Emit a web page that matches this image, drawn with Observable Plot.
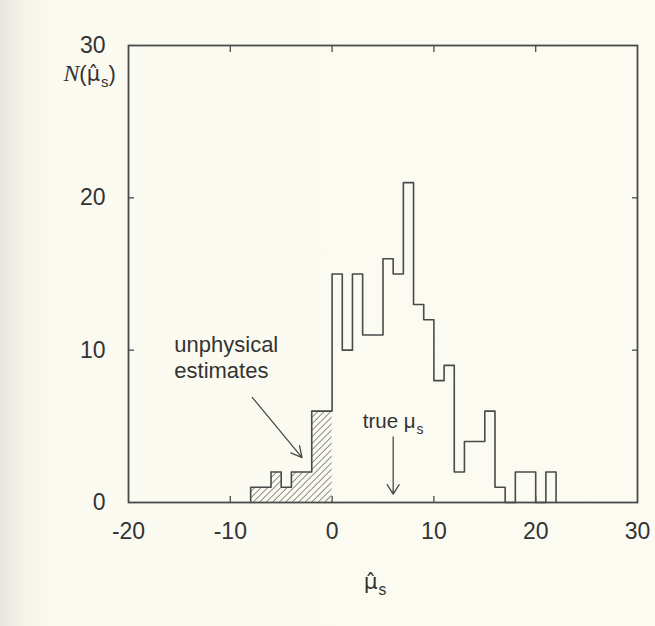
<!DOCTYPE html>
<html>
<head>
<meta charset="utf-8">
<script src="https://cdn.jsdelivr.net/npm/d3@7"></script>
<script src="https://cdn.jsdelivr.net/npm/@observablehq/plot@0.6"></script>
<style>
  html, body { margin: 0; padding: 0; }
  body {
    width: 655px; height: 626px; overflow: hidden;
    background: linear-gradient(to right, #e6e5dd 0px, #f4f3ea 22px, #fbfaf1 50px, #fcfbf2 100%);
  }
</style>
</head>
<body>
<div id="chart"></div>
<script>
// ---- data ----
const binEdges = [-8,-7,-6,-5,-4,-3,-2,-1,0,1,2,3,4,5,6,7,8,9,10,11,12,13,14,15,16,17,18,19,20,21,22];
const counts   = [ 1, 1, 2, 1, 2, 2, 6, 6,15,10,15,11,11,16,15,21,13,12, 8, 9, 2, 4, 4, 6, 1, 0, 2, 2, 0, 2];
const xTickLabels = [-20, -10, 0, 10, 20, 30];
const yTickLabels = [0, 10, 20, 30];
const xInnerTicks = [-10, 0, 10, 20];
const yInnerTicks = [10, 20];
const trueMu = 6;
const xLabel = "μ̂_s";
const yLabel = "*N*(μ̂_s)";
const noteText = ["unphysical", "estimates"];
const noteTrue = "true μ_s";
// annotation anchors (data units)
const notePos = {x: -15.5, y: 8.15};
const noteArrow = {x1: -7.85, y1: 6.9, x2: -2.95, y2: 2.95};
const truePos = {y: 4.9};
const trueArrow = {y1: 4.3, y2: 0.55};

// ---- tables ----
const bins = counts.map((c, i) => ({x1: binEdges[i], x2: binEdges[i + 1], n: c}));
const unphysical = bins.filter(b => b.x2 <= 0);
const outline = [{x: binEdges[0], y: 0}, ...bins.map(b => ({x: b.x1, y: b.n})), {x: binEdges[binEdges.length - 1], y: 0}];

const ink = "#4a4a4a";
const textInk = "#333333";
const font = "'Liberation Sans', Arial, Helvetica, sans-serif";

const plot = Plot.plot({
  width: 655,
  height: 626,
  marginLeft: 128,
  marginRight: 18,
  marginTop: 45,
  marginBottom: 124,
  x: {domain: [-20, 30]},
  y: {domain: [0, 30]},
  style: {background: "none", fontFamily: font, color: textInk, overflow: "visible"},
  marks: [
    Plot.rectY(unphysical, {x1: "x1", x2: "x2", y: "n", fill: "url(#hatch)"}),
    Plot.line(outline, {x: "x", y: "y", curve: "step-after", stroke: ink, strokeWidth: 1.6}),
    Plot.frame({stroke: ink, strokeWidth: 1.8}),
    Plot.axisX(xInnerTicks, {anchor: "bottom", tickSize: -6, fill: "none", stroke: ink, strokeWidth: 1.3, label: null}),
    Plot.axisX(xInnerTicks, {anchor: "top", tickSize: -6, fill: "none", stroke: ink, strokeWidth: 1.3, label: null}),
    Plot.axisY(yInnerTicks, {anchor: "left", tickSize: -6, fill: "none", stroke: ink, strokeWidth: 1.3, label: null}),
    Plot.axisY(yInnerTicks, {anchor: "right", tickSize: -6, fill: "none", stroke: ink, strokeWidth: 1.3, label: null}),
    Plot.axisX(xTickLabels, {anchor: "bottom", tickSize: 0, tickPadding: 20, fontSize: 23, fill: textInk, label: null, tickFormat: d => String(d)}),
    Plot.axisY(yTickLabels, {anchor: "left", tickSize: 0, tickPadding: 23, fontSize: 23, fill: textInk, label: null, tickFormat: d => String(d)}),
    Plot.text([xLabel], {text: d => d, frameAnchor: "bottom", dx: -8, dy: 86, lineAnchor: "bottom", fontSize: 23, fill: textInk}),
    Plot.text([yLabel], {text: d => d, frameAnchor: "top-left", dx: -65, dy: 28, textAnchor: "start", lineAnchor: "middle", fontSize: 22, fill: textInk}),
    Plot.text([noteText.join("\n")], {x: notePos.x, y: notePos.y, text: d => d, textAnchor: "start", lineAnchor: "bottom", lineHeight: 1.2, fontSize: 22, fill: textInk}),
    Plot.arrow([noteArrow], {x1: "x1", y1: "y1", x2: "x2", y2: "y2", stroke: ink, strokeWidth: 1.3, headLength: 14, headAngle: 55}),
    Plot.text([noteTrue], {x: trueMu, y: truePos.y, text: d => d, textAnchor: "middle", lineAnchor: "bottom", fontSize: 20.5, fill: textInk}),
    Plot.arrow([trueArrow], {x1: trueMu, x2: trueMu, y1: "y1", y2: "y2", stroke: ink, strokeWidth: 1.3, headLength: 13, headAngle: 64})
  ]
});

// hatch pattern definition
const ns = "http://www.w3.org/2000/svg";
const defs = document.createElementNS(ns, "defs");
defs.innerHTML = `<pattern id="hatch" patternUnits="userSpaceOnUse" width="4.6" height="4.6" patternTransform="rotate(45)">
  <line x1="0" y1="-1" x2="0" y2="6" stroke="${ink}" stroke-width="1.25"/></pattern>`;
plot.insertBefore(defs, plot.firstChild);

document.getElementById("chart").appendChild(plot);

// rich text: *italic serif*, _x subscripts, hatted letters in DejaVu Sans
plot.querySelectorAll("text").forEach(t => {
  if (t.querySelector("tspan")) return;
  const s = t.textContent;
  if (!/[_*\u0302]/.test(s)) return;
  const fs = parseFloat(getComputedStyle(t).fontSize) || 20;
  const segs = [];
  let italic = false, buf = "";
  const flush = () => { if (buf) segs.push({str: buf, italic, sub: false}); buf = ""; };
  const chars = Array.from(s);
  for (let i = 0; i < chars.length; i++) {
    const c = chars[i];
    if (c === "*") { flush(); italic = !italic; }
    else if (c === "_") { flush(); segs.push({str: chars[++i], italic, sub: true}); }
    else if (chars[i + 1] === "\u0302") { flush(); segs.push({str: c + "\u0302", italic, sub: false, hat: true}); i++; }
    else buf += c;
  }
  flush();
  t.textContent = "";
  let shifted = false;
  segs.forEach(sg => {
    const sp = document.createElementNS(ns, "tspan");
    sp.textContent = sg.str;
    if (sg.italic) { sp.setAttribute("font-family", "'Liberation Serif', 'DejaVu Serif', serif"); sp.setAttribute("font-style", "italic"); sp.setAttribute("font-size", fs * 1.08); }
    if (sg.hat) { sp.setAttribute("font-family", "'DejaVu Sans', sans-serif"); sp.setAttribute("font-size", fs * 0.95); }
    if (sg.sub) { sp.setAttribute("font-size", fs * 0.68); sp.setAttribute("dy", fs * 0.28); sp.setAttribute("dx", 1); shifted = true; }
    else if (shifted) { sp.setAttribute("dy", -fs * 0.28); shifted = false; }
    t.appendChild(sp);
  });
});
</script>
</body>
</html>
